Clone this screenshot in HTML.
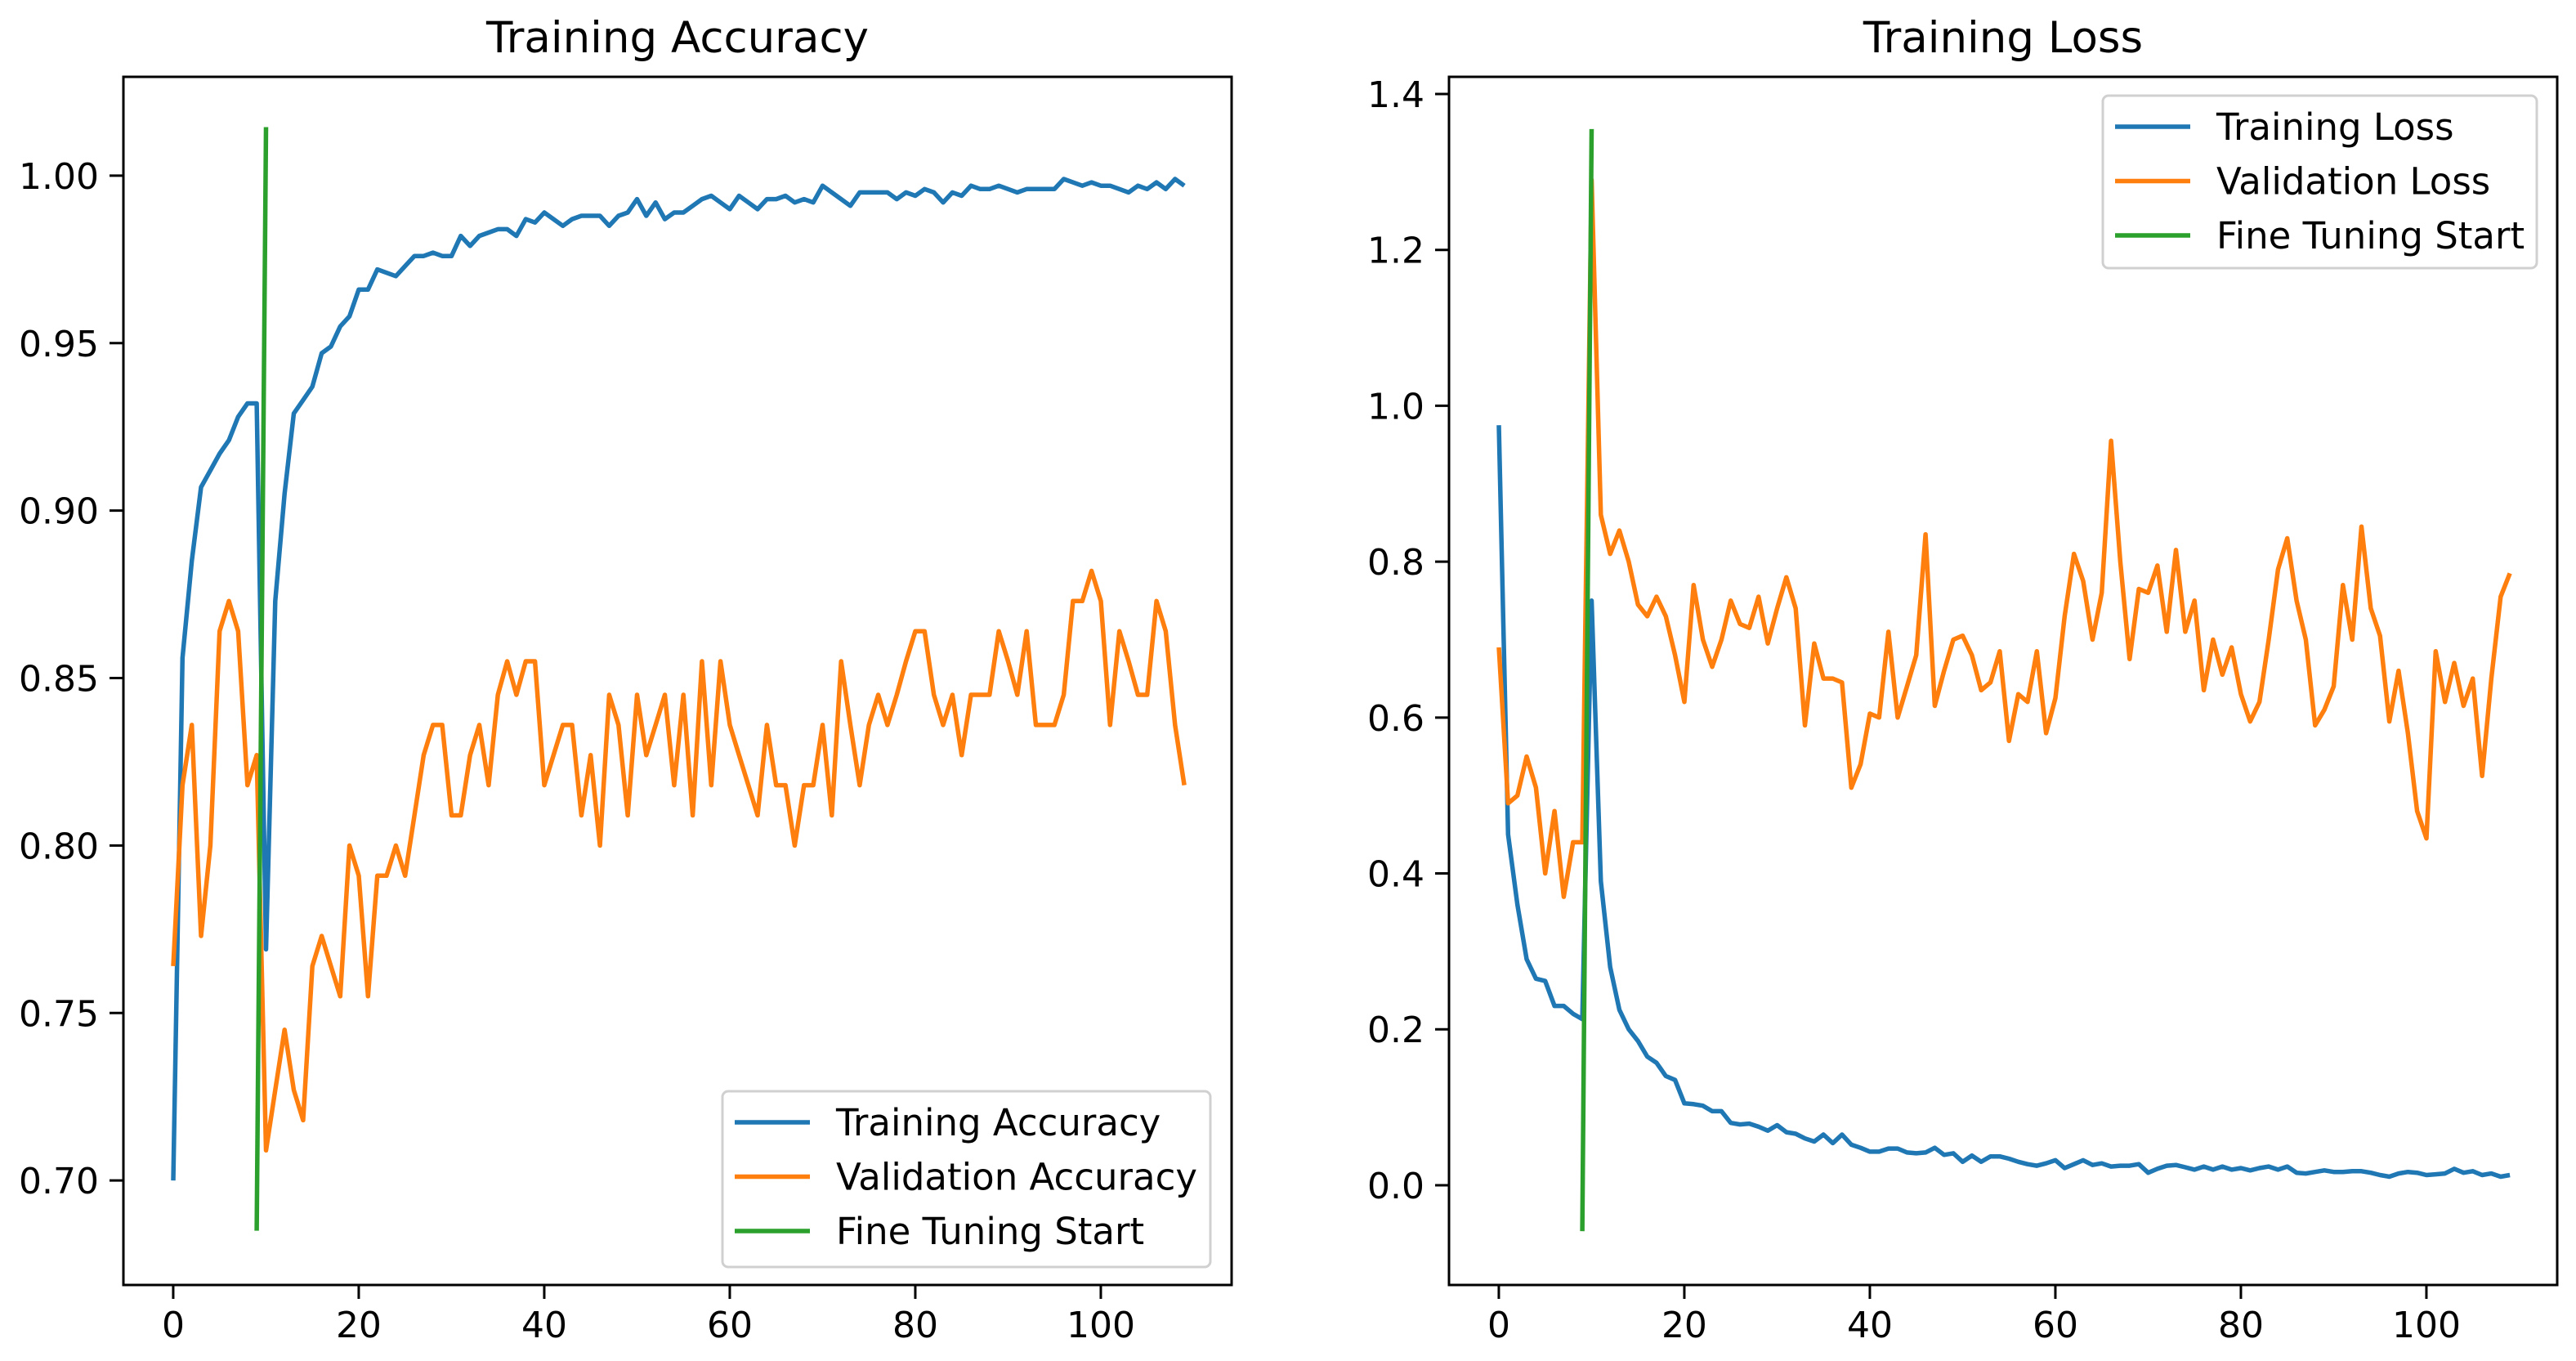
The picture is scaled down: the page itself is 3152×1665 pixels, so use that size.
<!DOCTYPE html>
<html><head><meta charset="utf-8"><style>
html,body{margin:0;padding:0;background:#fff}
svg{display:block}
text{font-family:"DejaVu Sans","Liberation Sans",sans-serif;fill:#000}
</style></head><body>
<svg id="chart" width="3152" height="1665" viewBox="0 0 3152 1665" xmlns="http://www.w3.org/2000/svg"></svg>
<script>
const epochs = Array.from({length:110},(_,i)=>i);
const trainAcc = [0.700,0.856,0.885,0.907,0.912,0.917,0.921,0.928,0.932,0.932,0.769,0.873,0.905,0.929,0.933,0.937,0.947,0.949,0.955,0.958,0.966,0.966,0.972,0.971,0.970,0.973,0.976,0.976,0.977,0.976,0.976,0.982,0.979,0.982,0.983,0.984,0.984,0.982,0.987,0.986,0.989,0.987,0.985,0.987,0.988,0.988,0.988,0.985,0.988,0.989,0.993,0.988,0.992,0.987,0.989,0.989,0.991,0.993,0.994,0.992,0.990,0.994,0.992,0.990,0.993,0.993,0.994,0.992,0.993,0.992,0.997,0.995,0.993,0.991,0.995,0.995,0.995,0.995,0.993,0.995,0.994,0.996,0.995,0.992,0.995,0.994,0.997,0.996,0.996,0.997,0.996,0.995,0.996,0.996,0.996,0.996,0.999,0.998,0.997,0.998,0.997,0.997,0.996,0.995,0.997,0.996,0.998,0.996,0.999,0.997];
const valAcc = [0.764,0.818,0.836,0.773,0.800,0.864,0.873,0.864,0.818,0.827,0.709,0.727,0.745,0.727,0.718,0.764,0.773,0.764,0.755,0.800,0.791,0.755,0.791,0.791,0.800,0.791,0.809,0.827,0.836,0.836,0.809,0.809,0.827,0.836,0.818,0.845,0.855,0.845,0.855,0.855,0.818,0.827,0.836,0.836,0.809,0.827,0.800,0.845,0.836,0.809,0.845,0.827,0.836,0.845,0.818,0.845,0.809,0.855,0.818,0.855,0.836,0.827,0.818,0.809,0.836,0.818,0.818,0.800,0.818,0.818,0.836,0.809,0.855,0.836,0.818,0.836,0.845,0.836,0.845,0.855,0.864,0.864,0.845,0.836,0.845,0.827,0.845,0.845,0.845,0.864,0.855,0.845,0.864,0.836,0.836,0.836,0.845,0.873,0.873,0.882,0.873,0.836,0.864,0.855,0.845,0.845,0.873,0.864,0.836,0.818];
const trainLoss = [0.975,0.45,0.36,0.29,0.265,0.262,0.23,0.23,0.22,0.213,0.75,0.39,0.28,0.225,0.20,0.185,0.165,0.157,0.14,0.135,0.105,0.104,0.102,0.095,0.095,0.08,0.078,0.079,0.075,0.07,0.077,0.068,0.066,0.06,0.056,0.065,0.054,0.065,0.052,0.048,0.043,0.043,0.047,0.047,0.042,0.041,0.042,0.048,0.039,0.041,0.03,0.038,0.03,0.037,0.037,0.034,0.03,0.027,0.025,0.028,0.032,0.022,0.027,0.032,0.026,0.028,0.024,0.025,0.025,0.027,0.016,0.021,0.025,0.026,0.023,0.02,0.024,0.02,0.024,0.02,0.022,0.019,0.022,0.024,0.02,0.024,0.016,0.015,0.017,0.019,0.017,0.017,0.018,0.018,0.016,0.013,0.011,0.015,0.017,0.016,0.013,0.014,0.015,0.021,0.016,0.018,0.013,0.015,0.011,0.013];
const valLoss = [0.69,0.49,0.50,0.55,0.51,0.40,0.48,0.37,0.44,0.44,1.29,0.86,0.81,0.84,0.80,0.745,0.73,0.755,0.73,0.68,0.62,0.77,0.70,0.665,0.70,0.75,0.72,0.715,0.755,0.695,0.74,0.78,0.74,0.59,0.695,0.65,0.65,0.645,0.51,0.54,0.605,0.60,0.71,0.60,0.64,0.68,0.835,0.615,0.66,0.70,0.705,0.68,0.635,0.645,0.685,0.57,0.63,0.62,0.685,0.58,0.625,0.73,0.81,0.775,0.70,0.76,0.955,0.80,0.675,0.765,0.76,0.795,0.71,0.815,0.71,0.75,0.635,0.70,0.655,0.69,0.63,0.595,0.62,0.70,0.79,0.83,0.75,0.70,0.59,0.61,0.64,0.77,0.70,0.845,0.74,0.705,0.595,0.66,0.58,0.48,0.445,0.685,0.62,0.67,0.615,0.65,0.525,0.65,0.755,0.785];
const fineX = [9,10];
const fineAcc = [0.685,1.0145];
const fineLoss = [-0.059,1.355];
const xTicks = [0,20,40,60,80,100];
const accTicks = [0.70,0.75,0.80,0.85,0.90,0.95,1.00];
const lossTicks = [0.0,0.2,0.4,0.6,0.8,1.0,1.2,1.4];

const NS="http://www.w3.org/2000/svg";
const svg=document.getElementById('chart');
function mk(tag,attrs,parent){const e=document.createElementNS(NS,tag);for(const k in attrs)e.setAttribute(k,attrs[k]);(parent||svg).appendChild(e);return e;}

function panel(cfg){
  const g=mk('g',{});
  
  
  const sx=v=>cfg.x0+(v-cfg.xmin)/(cfg.xmax-cfg.xmin)*(cfg.x1-cfg.x0);
  const sy=v=>cfg.y1-(v-cfg.ymin)/(cfg.ymax-cfg.ymin)*(cfg.y1-cfg.y0);
  const t=mk('text',{x:(cfg.x0+cfg.x1)/2,y:64,'text-anchor':'middle','font-size':'53'},g);
  t.textContent=cfg.title;
  
  
  const series=[
    {xs:epochs,ys:cfg.s1,c:'#1f77b4',n:'training-line'},
    {xs:epochs,ys:cfg.s2,c:'#ff7f0e',n:'validation-line'},
    {xs:fineX,ys:cfg.fine,c:'#2ca02c',n:'fine-tuning-line'}];
  series.forEach(s=>{
    const p=mk('polyline',{points:s.xs.map((x,i)=>sx(x).toFixed(1)+','+sy(s.ys[i]).toFixed(1)).join(' '),fill:'none',stroke:s.c,'stroke-width':'5.5','stroke-linejoin':'round'},g);
    
    
  });
  const box=mk('rect',{x:cfg.x0,y:cfg.y0,width:cfg.x1-cfg.x0,height:cfg.y1-cfg.y0,fill:'none',stroke:'#000','stroke-width':'3'},g);
  
  
  xTicks.forEach(v=>{
    const x=sx(v);
    mk('line',{x1:x,x2:x,y1:cfg.y1,y2:cfg.y1+17,stroke:'#000','stroke-width':'3'},g);
    const l=mk('text',{x:x,y:cfg.y1+64,'text-anchor':'middle','font-size':'44'},g);
    l.textContent=v;
    
    
  });
  cfg.yTicks.forEach(v=>{
    const y=sy(v);
    mk('line',{x1:cfg.x0-17,x2:cfg.x0,y1:y,y2:y,stroke:'#000','stroke-width':'3'},g);
    const l=mk('text',{x:cfg.x0-30,y:y+16,'text-anchor':'end','font-size':'44'},g);
    l.textContent=v.toFixed(cfg.dec);
    
    
  });
  const L=cfg.leg;
  const lg=mk('g',{},g);
  
  
  mk('rect',{x:L.x,y:L.y,width:L.w,height:L.h,rx:7,fill:'#fff','fill-opacity':'0.8',stroke:'#d0d0d0','stroke-width':'3'},lg);
  cfg.labels.forEach((lab,i)=>{
    const yy=L.y+38+i*66.5;
    mk('line',{x1:L.x+15,x2:L.x+107,y1:yy,y2:yy,stroke:['#1f77b4','#ff7f0e','#2ca02c'][i],'stroke-width':'5.5'},lg);
    const tx=mk('text',{x:L.x+139,y:yy+16,'font-size':'45'},lg);
    tx.textContent=lab;
    
    
  });
}
panel({name:'accuracy-chart',title:'Training Accuracy',x0:151,x1:1507,y0:94,y1:1572,xmin:-5.37,xmax:114.1,ymin:0.6688,ymax:1.0295,
  s1:trainAcc,s2:valAcc,fine:fineAcc,yTicks:accTicks,dec:2,
  leg:{x:884,y:1335,w:597,h:215},labels:['Training Accuracy','Validation Accuracy','Fine Tuning Start']});
panel({name:'loss-chart',title:'Training Loss',x0:1773,x1:3129,y0:94,y1:1572,xmin:-5.37,xmax:114.1,ymin:-0.128,ymax:1.422,
  s1:trainLoss,s2:valLoss,fine:fineLoss,yTicks:lossTicks,dec:1,
  leg:{x:2573,y:117,w:531,h:211},labels:['Training Loss','Validation Loss','Fine Tuning Start']});
</script>
</body></html>
